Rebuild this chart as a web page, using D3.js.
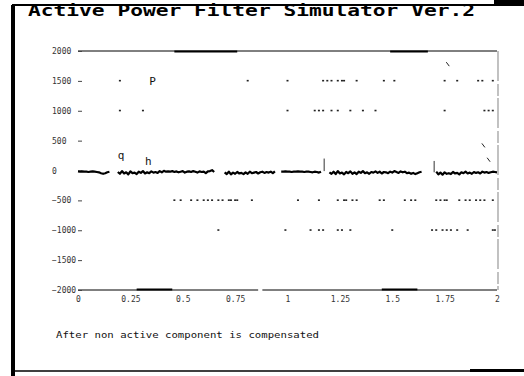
<!DOCTYPE html>
<html>
<head>
<meta charset="utf-8">
<script src="https://cdn.jsdelivr.net/npm/d3@7"></script>
<style>
  body { margin: 0; background: #fff; }
  svg { display: block; }
</style>
</head>
<body>
<svg id="chart" width="524" height="376"></svg>
<script>
const title = "Active Power Filter Simulator Ver.2";
const caption = "After non active component is compensated";

const xTicks = [0, 0.25, 0.5, 0.75, 1, 1.25, 1.5, 1.75, 2];
const xTickLabels = ["0", "0.25", "0.5", "0.75", "1", "1.25", "1.5", "1.75", "2"];
const yTicks = [-2000, -1500, -1000, -500, 0, 500, 1000, 1500, 2000];

// source current after compensation, one sample every 0.01 s (null = lost in the plot)
const tStep = 0.01;
const current = [
  -15,-20,-15,-20,-20,-25,-20,-15,-20,-25,-30,-45,-55,-45,-30,-20,
  null,null,null,
  -25,-55,-10,-50,-30,-65,-15,-45,-35,-60,-20,-40,-10,-50,-30,-45,-15,-35,-25,-40,-10,-30,-5,-20,
  -15,-20,-10,-25,-15,-30,-20,-10,-35,-20,-15,-25,-10,-20,-35,-15,-25,-20,-45,-15,-10,5,-25,
  null,null,null,null,
  -30,-60,-20,-65,-35,-55,-25,-50,-40,-60,-30,-55,-20,-45,-35,-25,-50,-30,-20,-40,-25,-35,-20,-45,-15,
  null,null,
  -20,-20,-15,-20,-20,-25,-20,-20,-15,-20,-20,-25,-20,-20,-25,-30,-20,-25,-35,-20,
  null,null,null,
  -30,-55,-20,-60,-10,-50,-35,-65,-25,-45,-15,-55,-30,-60,-20,-40,-10,-45,-30,-55,-25,-35,-15,-40,-20,
  -50,-25,-30,-45,-20,-35,-10,-25,-40,-15,-30,-20,-45,-35,-55,-40,-60,-45,-30,-20,
  null,null,null,null,null,null,
  -20,-65,-35,-70,-30,-55,-45,-60,-25,-50,-40,-65,-30,-45,-20,-50,-35,-55,-25,-40,-30,-50,-20,-35,-25,-40,-30,-20,-25,-30
];

// faded dotted rows (times of the surviving dots) at each level
const dots1500 = [0.20,0.81,1.00,1.17,1.19,1.21,1.24,1.26,1.27,1.33,1.46,1.51,1.75,1.81,1.91,1.93,1.98];
const dots1000 = [0.20,0.31,1.00,1.13,1.15,1.17,1.21,1.24,1.30,1.36,1.42,1.75,1.94,1.96,1.98];
const dotsM500 = [0.46,0.49,0.54,0.57,0.60,0.62,0.64,0.67,0.69,0.72,0.73,0.75,0.76,0.83,1.05,1.15,1.24,1.27,1.28,1.31,1.33,1.44,1.46,1.56,1.59,1.61,1.71,1.73,1.75,1.76,1.82,1.85,1.87,1.90,1.92,1.94,1.98];
const dotsM1000 = [0.67,0.99,1.11,1.15,1.17,1.24,1.26,1.30,1.50,1.69,1.71,1.74,1.76,1.78,1.81,1.86,1.98,1.99];
const dotRows = [
  { level: 1500, times: dots1500 },
  { level: 1000, times: dots1000 },
  { level: -500, times: dotsM500 },
  { level: -1000, times: dotsM1000 }
];

const spikes = [ { t: 1.175, v0: -10, v1: 200 }, { t: 1.70, v0: -30, v1: 160 } ];
const ticksMarks = [ { t: 1.765, v: 1780 }, { t: 1.935, v: 420 }, { t: 1.96, v: 180 } ];
const glyphs = [
  { t: 0.34, v: 1430, text: "P" },
  { t: 0.19, v: 190, text: "q" },
  { t: 0.32, v: 90, text: "h" }
];

// darker stretches of the frame edges
const topHeavy = [[0.46, 0.76], [1.49, 1.67]];
const bottomHeavy = [[0.28, 0.45], [1.45, 1.62]];

const svg = d3.select("#chart");
const mono = "'DejaVu Sans Mono', 'Liberation Mono', monospace";

const x = d3.scaleLinear().domain([0, 2]).range([78, 497]);
const y = d3.scaleLinear().domain([-2000, 2000]).range([290, 51]);

// window frame
svg.append("rect").attr("x", 11).attr("y", 5).attr("width", 4).attr("height", 371).attr("fill", "#000");
svg.append("line").attr("x1", 12).attr("x2", 524).attr("y1", 5).attr("y2", 5)
  .attr("stroke", "#000").attr("stroke-width", 2);
svg.append("rect").attr("x", 494).attr("y", 0).attr("width", 30).attr("height", 6).attr("fill", "#000");
svg.append("line").attr("x1", 12).attr("x2", 524).attr("y1", 371).attr("y2", 371)
  .attr("stroke", "#000").attr("stroke-width", 1.5);
svg.append("rect").attr("x", 470).attr("y", 369).attr("width", 54).attr("height", 3).attr("fill", "#000");

svg.append("text")
  .attr("x", 28).attr("y", 16)
  .attr("textLength", 447).attr("lengthAdjust", "spacingAndGlyphs")
  .style("font-family", mono).style("font-size", "15px").style("font-weight", "bold")
  .attr("fill", "#000")
  .text(title);

// plot frame
const t0 = 0, t1 = 2;
svg.append("line").attr("x1", x(t0)).attr("x2", x(t1)).attr("y1", y(2000)).attr("y2", y(2000))
  .attr("stroke", "#000").attr("stroke-width", 1);
svg.append("line").attr("x1", x(t0)).attr("x2", x(0.86)).attr("y1", y(-2000)).attr("y2", y(-2000))
  .attr("stroke", "#000").attr("stroke-width", 1);
svg.append("line").attr("x1", x(0.88)).attr("x2", x(t1)).attr("y1", y(-2000)).attr("y2", y(-2000))
  .attr("stroke", "#000").attr("stroke-width", 1);
svg.append("line").attr("x1", x(t1) + 1).attr("x2", x(t1) + 1).attr("y1", y(2000)).attr("y2", y(-2000))
  .attr("stroke", "#999").attr("stroke-width", 1.2).attr("stroke-dasharray", "30,3,12,2");

svg.selectAll("line.heavyTop").data(topHeavy).join("line").attr("class", "heavyTop")
  .attr("x1", d => x(d[0])).attr("x2", d => x(d[1]))
  .attr("y1", y(2000) + 0.5).attr("y2", y(2000) + 0.5)
  .attr("stroke", "#000").attr("stroke-width", 2);
svg.selectAll("line.heavyBottom").data(bottomHeavy).join("line").attr("class", "heavyBottom")
  .attr("x1", d => x(d[0])).attr("x2", d => x(d[1]))
  .attr("y1", y(-2000) - 0.5).attr("y2", y(-2000) - 0.5)
  .attr("stroke", "#000").attr("stroke-width", 2);

// axes
const yAxis = d3.axisLeft(y).tickValues(yTicks).tickSizeInner(-4).tickSizeOuter(0).tickPadding(1)
  .tickFormat(d3.format("d"));
const gy = svg.append("g").attr("transform", `translate(${x(0)},0)`).call(yAxis);
gy.select(".domain").remove();
gy.selectAll(".tick line").attr("stroke", "#444");
gy.selectAll(".tick text")
  .attr("x", -26).attr("text-anchor", "start")
  .style("font-family", mono).style("font-size", "8px").attr("fill", "#333");

const xAxis = d3.axisBottom(x).tickValues(xTicks).tickSize(0).tickPadding(6)
  .tickFormat((d, i) => xTickLabels[i]);
const gx = svg.append("g").attr("transform", `translate(0,${y(-2000)})`).call(xAxis);
gx.select(".domain").remove();
gx.selectAll(".tick text")
  .style("font-family", mono).style("font-size", "8px").attr("fill", "#333");

// dotted rows
dotRows.forEach(row => {
  svg.append("g").selectAll("rect").data(row.times).join("rect")
    .attr("x", d => x(d) - 1).attr("y", y(row.level) - 1)
    .attr("width", 2).attr("height", 1.6).attr("fill", "#222");
});

// waveform
const line = d3.line()
  .defined(d => d != null)
  .x((d, i) => x(i * tStep))
  .y(d => y(d));
svg.append("path").datum(current)
  .attr("d", line)
  .attr("fill", "none").attr("stroke", "#000").attr("stroke-width", 2.2)
  .attr("stroke-linejoin", "round");

svg.selectAll("line.spike").data(spikes).join("line").attr("class", "spike")
  .attr("x1", d => x(d.t)).attr("x2", d => x(d.t))
  .attr("y1", d => y(d.v0)).attr("y2", d => y(d.v1))
  .attr("stroke", "#333").attr("stroke-width", 1);

svg.selectAll("line.mark").data(ticksMarks).join("line").attr("class", "mark")
  .attr("x1", d => x(d.t) - 1.5).attr("x2", d => x(d.t) + 1.5)
  .attr("y1", d => y(d.v) - 2).attr("y2", d => y(d.v) + 2)
  .attr("stroke", "#222").attr("stroke-width", 1);

svg.selectAll("text.glyph").data(glyphs).join("text").attr("class", "glyph")
  .attr("x", d => x(d.t)).attr("y", d => y(d.v))
  .style("font-family", mono).style("font-size", "11px").attr("fill", "#111")
  .text(d => d.text);

// caption
svg.append("text")
  .attr("x", 56).attr("y", 338)
  .attr("textLength", 263).attr("lengthAdjust", "spacingAndGlyphs")
  .style("font-family", mono).style("font-size", "9px").attr("fill", "#111")
  .text(caption);
</script>
</body>
</html>
